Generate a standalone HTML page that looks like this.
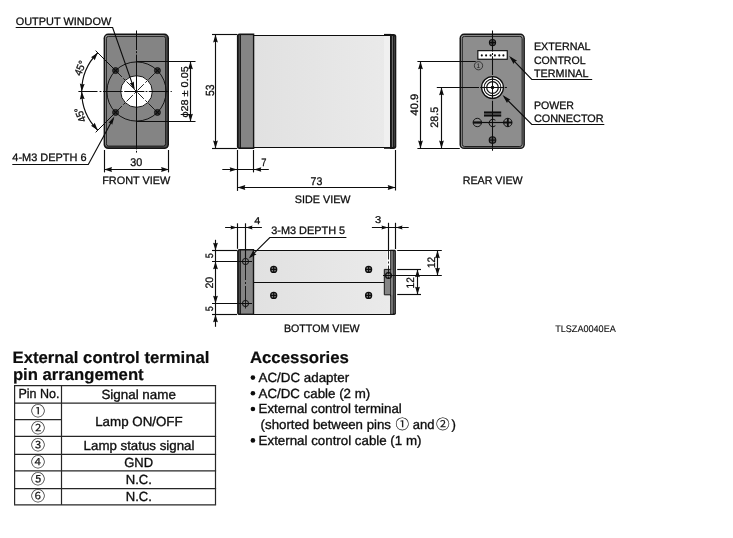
<!DOCTYPE html>
<html lang="en">
<head>
<meta charset="utf-8">
<title>Dimensional outline</title>
<style>
html,body{margin:0;padding:0;background:#fff;}
body{width:733px;height:538px;position:relative;overflow:hidden;font-family:"Liberation Sans","Noto Sans CJK JP",sans-serif;color:#111;}
svg{position:absolute;left:0;top:0;filter:grayscale(1);}
svg text{font-family:"Liberation Sans","Noto Sans CJK JP",sans-serif;text-rendering:geometricPrecision;}
</style>
</head>
<body>
<svg width="733" height="538" viewBox="0 0 733 538">
<defs><linearGradient id="bg" x1="0" y1="0" x2="1" y2="0"><stop offset="0" stop-color="#e1e1e1"/><stop offset="1" stop-color="#eaeaea"/></linearGradient></defs>
<rect x="103.60" y="33.60" width="65.40" height="115.40" rx="4.6" fill="#141414"/>
<rect x="105.10" y="35.10" width="62.40" height="112.40" rx="3.2" fill="#4c4c4c"/>
<rect x="105.10" y="35.10" width="60.50" height="111.00" rx="3.2" fill="#9a9a9a"/>
<rect x="106.35" y="36.35" width="59.25" height="109.75" rx="2.3" fill="#848484" stroke="#161616" stroke-width="0.95"/>
<circle cx="136.5" cy="91.5" r="29.6" fill="none" stroke="#0d0d0d" stroke-width="0.95"/>
<circle cx="136.5" cy="91.5" r="15.8" fill="#fff" stroke="#0d0d0d" stroke-width="0.95"/>
<line x1="115.57" y1="70.57" x2="157.43" y2="112.43" stroke="#0d0d0d" stroke-width="0.9" stroke-dasharray="9 2 2.5 2"/>
<line x1="115.57" y1="112.43" x2="157.43" y2="70.57" stroke="#0d0d0d" stroke-width="0.9" stroke-dasharray="9 2 2.5 2"/>
<circle cx="115.57" cy="70.57" r="3.0" fill="#333" stroke="#1c1c1c" stroke-width="1.0"/>
<line x1="113.27" y1="68.27" x2="117.87" y2="72.87" stroke="#0d0d0d" stroke-width="1.1"/>
<line x1="113.27" y1="72.87" x2="117.87" y2="68.27" stroke="#0d0d0d" stroke-width="1.1"/>
<circle cx="157.43" cy="70.57" r="3.0" fill="#333" stroke="#1c1c1c" stroke-width="1.0"/>
<line x1="155.13" y1="68.27" x2="159.73" y2="72.87" stroke="#0d0d0d" stroke-width="1.1"/>
<line x1="155.13" y1="72.87" x2="159.73" y2="68.27" stroke="#0d0d0d" stroke-width="1.1"/>
<circle cx="115.57" cy="112.43" r="3.0" fill="#333" stroke="#1c1c1c" stroke-width="1.0"/>
<line x1="113.27" y1="110.13" x2="117.87" y2="114.73" stroke="#0d0d0d" stroke-width="1.1"/>
<line x1="113.27" y1="114.73" x2="117.87" y2="110.13" stroke="#0d0d0d" stroke-width="1.1"/>
<circle cx="157.43" cy="112.43" r="3.0" fill="#333" stroke="#1c1c1c" stroke-width="1.0"/>
<line x1="155.13" y1="110.13" x2="159.73" y2="114.73" stroke="#0d0d0d" stroke-width="1.1"/>
<line x1="155.13" y1="114.73" x2="159.73" y2="110.13" stroke="#0d0d0d" stroke-width="1.1"/>
<line x1="78.40" y1="91.50" x2="172.00" y2="91.50" stroke="#0d0d0d" stroke-width="1.0" stroke-dasharray="19.1 2.1 1.8 1.6 19.6 1.6 20.2 1.2 1.8 1.4 20.2 1.6 1.2 9"/>
<line x1="136.50" y1="30.50" x2="136.50" y2="152.60" stroke="#0d0d0d" stroke-width="1.0" stroke-dasharray="19.5 1.2 2 1.4 94.8 1.4 1.8 9"/>
<line x1="115.57" y1="70.57" x2="95.63" y2="50.63" stroke="#0d0d0d" stroke-width="1.0"/>
<line x1="115.57" y1="112.43" x2="95.63" y2="132.37" stroke="#0d0d0d" stroke-width="1.0"/>
<path d="M97.75,52.75 A54.8,54.8 0 0 0 97.75,130.25" fill="none" stroke="#0d0d0d" stroke-width="1.15"/>
<polygon points="97.75,52.75 94.71,60.32 93.33,58.21 90.98,57.30" fill="#0d0d0d"/>
<polygon points="81.70,91.50 79.85,83.55 82.19,84.50 84.64,83.89" fill="#0d0d0d"/>
<polygon points="81.70,91.50 84.64,99.11 82.19,98.50 79.85,99.45" fill="#0d0d0d"/>
<polygon points="97.75,130.25 90.98,125.70 93.33,124.79 94.71,122.68" fill="#0d0d0d"/>
<text transform="translate(79.96,68.08) rotate(-67.5) translate(-7.60,3.87) scale(0.9321,1)" font-size="10.8" fill="#0d0d0d" stroke="#0d0d0d" stroke-width="0.28">45°</text>
<text transform="translate(79.96,114.92) rotate(-112.5) translate(-7.60,3.87) scale(0.9321,1)" font-size="10.8" fill="#0d0d0d" stroke="#0d0d0d" stroke-width="0.28">45°</text>
<text transform="translate(15.70,24.90) scale(1.0105,1)" font-size="10.8" fill="#0d0d0d" stroke="#0d0d0d" stroke-width="0.28">OUTPUT WINDOW</text>
<polyline points="15.70,27.50 112.60,27.50 134.00,88.60" fill="none" stroke="#0d0d0d" stroke-width="1.15" stroke-linejoin="miter"/>
<polygon points="134.60,90.30 129.81,82.97 132.07,83.08 133.77,81.58" fill="#0d0d0d"/>
<text transform="translate(12.30,160.80) scale(1.0133,1)" font-size="10.8" fill="#0d0d0d" stroke="#0d0d0d" stroke-width="0.28">4-M3 DEPTH 6</text>
<polyline points="12.30,164.50 88.30,164.50 113.00,119.00" fill="none" stroke="#0d0d0d" stroke-width="1.15" stroke-linejoin="miter"/>
<polygon points="114.40,116.40 112.19,124.87 110.75,123.12 108.50,122.87" fill="#0d0d0d"/>
<line x1="136.50" y1="61.50" x2="195.50" y2="61.50" stroke="#0d0d0d" stroke-width="1.15"/>
<line x1="136.50" y1="121.50" x2="195.50" y2="121.50" stroke="#0d0d0d" stroke-width="1.15"/>
<line x1="190.50" y1="61.90" x2="190.50" y2="121.10" stroke="#0d0d0d" stroke-width="1.15"/>
<polygon points="190.50,61.50 192.90,69.30 190.50,68.52 188.10,69.30" fill="#0d0d0d"/>
<polygon points="190.50,121.50 188.10,113.70 190.50,114.48 192.90,113.70" fill="#0d0d0d"/>
<text transform="translate(188.20,117.60) rotate(-90) scale(1.1100,1)" font-size="9.8" fill="#0d0d0d" stroke="#0d0d0d" stroke-width="0.28">ϕ28 ± 0.05</text>
<line x1="212.00" y1="34.50" x2="237.20" y2="34.50" stroke="#0d0d0d" stroke-width="1.15"/>
<line x1="212.00" y1="148.50" x2="237.20" y2="148.50" stroke="#0d0d0d" stroke-width="1.15"/>
<line x1="215.50" y1="34.50" x2="215.50" y2="148.50" stroke="#0d0d0d" stroke-width="1.15"/>
<polygon points="215.50,34.60 217.90,42.40 215.50,41.62 213.10,42.40" fill="#0d0d0d"/>
<polygon points="215.50,148.40 213.10,140.60 215.50,141.38 217.90,140.60" fill="#0d0d0d"/>
<text transform="translate(213.50,96.10) rotate(-90) scale(0.8780,1)" font-size="11.8" fill="#0d0d0d" stroke="#0d0d0d" stroke-width="0.28">53</text>
<line x1="104.50" y1="150.00" x2="104.50" y2="172.40" stroke="#0d0d0d" stroke-width="1.15"/>
<line x1="168.50" y1="150.00" x2="168.50" y2="172.40" stroke="#0d0d0d" stroke-width="1.15"/>
<line x1="104.20" y1="169.50" x2="168.50" y2="169.50" stroke="#0d0d0d" stroke-width="1.15"/>
<polygon points="104.20,169.50 112.00,167.10 111.22,169.50 112.00,171.90" fill="#0d0d0d"/>
<polygon points="168.90,169.50 161.10,171.90 161.88,169.50 161.10,167.10" fill="#0d0d0d"/>
<text transform="translate(130.30,165.80) scale(0.9653,1)" font-size="11.2" fill="#0d0d0d" stroke="#0d0d0d" stroke-width="0.28">30</text>
<text transform="translate(102.20,184.00) scale(1.0073,1)" font-size="10.8" fill="#0d0d0d" stroke="#0d0d0d" stroke-width="0.28">FRONT VIEW</text>
<rect x="254" y="35" width="136" height="113" fill="url(#bg)"/>
<rect x="384" y="35" width="6" height="113" fill="#f0f0f0"/>
<line x1="254.00" y1="35.50" x2="390.00" y2="35.50" stroke="#0d0d0d" stroke-width="1.2"/>
<line x1="254.00" y1="147.50" x2="390.00" y2="147.50" stroke="#0d0d0d" stroke-width="1.2"/>
<path d="M254.3,33.6 H239.6 Q236.9,33.6 236.9,36.3 V146.2 Q236.9,148.9 239.6,148.9 H254.3 Z" fill="#141414"/>
<rect x="238.6" y="35.1" width="1.6" height="112.3" fill="#4a4a4a"/>
<rect x="241.0" y="35.1" width="11.9" height="112.3" fill="#858585"/>
<path d="M390,33.9 H393.6 Q396.3,33.9 396.3,36.6 V146.2 Q396.3,148.9 393.6,148.9 H390 Z" fill="#161616"/>
<line x1="392.40" y1="36.00" x2="392.40" y2="147.00" stroke="#7c7c7c" stroke-width="0.9"/>
<line x1="394.40" y1="36.50" x2="394.40" y2="146.50" stroke="#555" stroke-width="0.7"/>
<rect x="384" y="33.9" width="7" height="1.7" fill="#111"/>
<rect x="384" y="147.0" width="7" height="1.8" fill="#111"/>
<line x1="237.50" y1="150.00" x2="237.50" y2="190.90" stroke="#0d0d0d" stroke-width="1.15"/>
<line x1="253.50" y1="150.00" x2="253.50" y2="172.40" stroke="#0d0d0d" stroke-width="1.15"/>
<line x1="222.30" y1="169.50" x2="268.80" y2="169.50" stroke="#0d0d0d" stroke-width="1.15"/>
<polygon points="237.10,169.50 229.70,171.70 230.44,169.50 229.70,167.30" fill="#0d0d0d"/>
<polygon points="253.90,169.50 261.30,167.30 260.56,169.50 261.30,171.70" fill="#0d0d0d"/>
<text transform="translate(261.20,165.80) scale(0.8675,1)" font-size="10.8" fill="#0d0d0d" stroke="#0d0d0d" stroke-width="0.28">7</text>
<line x1="395.50" y1="150.00" x2="395.50" y2="190.50" stroke="#0d0d0d" stroke-width="1.15"/>
<line x1="237.50" y1="187.50" x2="395.40" y2="187.50" stroke="#0d0d0d" stroke-width="1.15"/>
<polygon points="237.50,187.50 245.30,185.10 244.52,187.50 245.30,189.90" fill="#0d0d0d"/>
<polygon points="395.50,187.50 387.70,189.90 388.48,187.50 387.70,185.10" fill="#0d0d0d"/>
<text transform="translate(310.60,184.80) scale(0.9492,1)" font-size="11.2" fill="#0d0d0d" stroke="#0d0d0d" stroke-width="0.28">73</text>
<text transform="translate(294.80,203.30) scale(0.9994,1)" font-size="10.8" fill="#0d0d0d" stroke="#0d0d0d" stroke-width="0.28">SIDE VIEW</text>
<rect x="459.50" y="33.60" width="65.40" height="115.50" rx="4.6" fill="#141414"/>
<rect x="461.00" y="35.10" width="62.40" height="112.50" rx="3.2" fill="#9a9a9a"/>
<rect x="462.25" y="36.35" width="59.90" height="110.15" rx="2.3" fill="#8d8d8d" stroke="#161616" stroke-width="0.95"/>
<rect x="477.85" y="50.65" width="29.4" height="8.6" fill="#fff" stroke="#0d0d0d" stroke-width="1.15"/>
<circle cx="481.80" cy="55.4" r="1.05" fill="#0d0d0d"/>
<circle cx="486.10" cy="55.4" r="1.05" fill="#0d0d0d"/>
<circle cx="490.60" cy="55.4" r="1.05" fill="#0d0d0d"/>
<circle cx="494.90" cy="55.4" r="1.05" fill="#0d0d0d"/>
<circle cx="499.30" cy="55.4" r="1.05" fill="#0d0d0d"/>
<circle cx="503.40" cy="55.4" r="1.05" fill="#0d0d0d"/>
<circle cx="492.50" cy="42.60" r="3.1" fill="#5a5a5a" stroke="#0d0d0d" stroke-width="1.1"/>
<line x1="489.40" y1="42.60" x2="495.60" y2="42.60" stroke="#0d0d0d" stroke-width="1.5"/>
<line x1="492.50" y1="39.50" x2="492.50" y2="45.70" stroke="#0d0d0d" stroke-width="1.5"/>
<circle cx="492.50" cy="140.10" r="3.3" fill="#5a5a5a" stroke="#0d0d0d" stroke-width="1.1"/>
<line x1="489.20" y1="140.10" x2="495.80" y2="140.10" stroke="#0d0d0d" stroke-width="1.2"/>
<line x1="492.50" y1="136.80" x2="492.50" y2="143.40" stroke="#0d0d0d" stroke-width="1.2"/>
<circle cx="492.5" cy="87.5" r="10.9" fill="#fff" stroke="#0d0d0d" stroke-width="1.25"/>
<circle cx="492.5" cy="87.5" r="8.4" fill="none" stroke="#0d0d0d" stroke-width="1.05"/>
<circle cx="492.5" cy="87.5" r="5.8" fill="none" stroke="#0d0d0d" stroke-width="1.2"/>
<circle cx="492.5" cy="87.5" r="1.8" fill="#0d0d0d"/>
<line x1="492.50" y1="30.50" x2="492.50" y2="152.60" stroke="#0d0d0d" stroke-width="1.05" stroke-dasharray="21 1.4 2 1.4 18.6 1.6 22.8 1.4 47 1.4 1.6 9"/>
<line x1="480.20" y1="87.50" x2="506.90" y2="87.50" stroke="#0d0d0d" stroke-width="1.05" stroke-dasharray="23.4 1.1 2.2 9"/>
<line x1="484.00" y1="112.50" x2="501.20" y2="112.50" stroke="#0d0d0d" stroke-width="2.1"/>
<line x1="484.00" y1="115.50" x2="501.20" y2="115.50" stroke="#0d0d0d" stroke-width="2.1"/>
<line x1="477.20" y1="122.50" x2="507.80" y2="122.50" stroke="#0d0d0d" stroke-width="1.2"/>
<circle cx="477.30" cy="122.50" r="4.2" fill="none" stroke="#0d0d0d" stroke-width="0.95"/>
<line x1="473.10" y1="122.50" x2="481.50" y2="122.50" stroke="#0d0d0d" stroke-width="2.2"/>
<circle cx="507.80" cy="122.50" r="4.2" fill="none" stroke="#0d0d0d" stroke-width="0.95"/>
<line x1="503.60" y1="122.50" x2="512.00" y2="122.50" stroke="#0d0d0d" stroke-width="1.9"/>
<line x1="507.80" y1="118.30" x2="507.80" y2="126.70" stroke="#0d0d0d" stroke-width="1.9"/>
<path d="M495.4,120.2 A3.8,3.8 0 1 0 495.4,125.8" fill="none" stroke="#0d0d0d" stroke-width="1"/>
<circle cx="478.5" cy="65.7" r="4.15" fill="none" stroke="#1c1c1c" stroke-width="0.75"/>
<text x="478.4" y="68.1" font-size="6.6" text-anchor="middle" fill="#1c1c1c">1</text>
<line x1="417.40" y1="61.50" x2="475.70" y2="61.50" stroke="#0d0d0d" stroke-width="1.15"/>
<line x1="417.40" y1="148.50" x2="459.80" y2="148.50" stroke="#0d0d0d" stroke-width="1.15"/>
<line x1="420.50" y1="61.50" x2="420.50" y2="148.50" stroke="#0d0d0d" stroke-width="1.15"/>
<polygon points="420.50,61.50 422.90,69.30 420.50,68.52 418.10,69.30" fill="#0d0d0d"/>
<polygon points="420.50,148.40 418.10,140.60 420.50,141.38 422.90,140.60" fill="#0d0d0d"/>
<text transform="translate(418.20,115.40) rotate(-90) scale(1.0235,1)" font-size="10.8" fill="#0d0d0d" stroke="#0d0d0d" stroke-width="0.28">40.9</text>
<line x1="436.80" y1="87.50" x2="479.00" y2="87.50" stroke="#0d0d0d" stroke-width="1.15"/>
<line x1="441.50" y1="87.50" x2="441.50" y2="148.50" stroke="#0d0d0d" stroke-width="1.15"/>
<polygon points="441.50,87.50 443.90,95.30 441.50,94.52 439.10,95.30" fill="#0d0d0d"/>
<polygon points="441.50,148.40 439.10,140.60 441.50,141.38 443.90,140.60" fill="#0d0d0d"/>
<text transform="translate(438.30,127.80) rotate(-90) scale(0.9997,1)" font-size="10.8" fill="#0d0d0d" stroke="#0d0d0d" stroke-width="0.28">28.5</text>
<text transform="translate(462.70,183.50) scale(0.9894,1)" font-size="10.8" fill="#0d0d0d" stroke="#0d0d0d" stroke-width="0.28">REAR VIEW</text>
<text transform="translate(533.90,50.00) scale(0.9943,1)" font-size="10.8" fill="#0d0d0d" stroke="#0d0d0d" stroke-width="0.28">EXTERNAL</text>
<text transform="translate(533.90,63.80) scale(0.9789,1)" font-size="10.8" fill="#0d0d0d" stroke="#0d0d0d" stroke-width="0.28">CONTROL</text>
<text transform="translate(533.90,76.60) scale(0.9983,1)" font-size="10.8" fill="#0d0d0d" stroke="#0d0d0d" stroke-width="0.28">TERMINAL</text>
<polyline points="592.20,79.50 531.80,79.50 511.00,57.90" fill="none" stroke="#0d0d0d" stroke-width="1.15" stroke-linejoin="miter"/>
<polygon points="509.20,56.10 517.04,60.76 514.70,61.80 513.59,64.10" fill="#0d0d0d"/>
<text transform="translate(533.90,108.80) scale(0.9823,1)" font-size="10.8" fill="#0d0d0d" stroke="#0d0d0d" stroke-width="0.28">POWER</text>
<text transform="translate(533.90,121.70) scale(1.0045,1)" font-size="10.8" fill="#0d0d0d" stroke="#0d0d0d" stroke-width="0.28">CONNECTOR</text>
<polyline points="604.30,124.50 531.80,124.50 504.20,96.80" fill="none" stroke="#0d0d0d" stroke-width="1.15" stroke-linejoin="miter"/>
<polygon points="502.50,95.10 510.42,99.63 508.10,100.70 507.03,103.02" fill="#0d0d0d"/>
<rect x="254" y="250.5" width="136.5" height="64.0" fill="url(#bg)"/>
<rect x="387.2" y="250.5" width="3.2" height="18.6" fill="#fcfcfc"/>
<line x1="254.00" y1="250.50" x2="391.00" y2="250.50" stroke="#0d0d0d" stroke-width="1.2"/>
<line x1="254.00" y1="314.50" x2="391.00" y2="314.50" stroke="#0d0d0d" stroke-width="1.2"/>
<line x1="254.00" y1="282.50" x2="384.30" y2="282.50" stroke="#0d0d0d" stroke-width="1.1"/>
<path d="M254.2,248.9 H239.7 Q237.1,248.9 237.1,251.5 V312.4 Q237.1,315 239.7,315 H254.2 Z" fill="#141414"/>
<rect x="238.8" y="250.5" width="1.3" height="63" fill="#4a4a4a"/>
<rect x="240.9" y="250.5" width="11.9" height="63.1" fill="#858585"/>
<line x1="245.50" y1="266.00" x2="245.50" y2="299.50" stroke="#0d0d0d" stroke-width="0.9" stroke-dasharray="14 2 2 2"/>
<circle cx="245.5" cy="261.5" r="3.1" fill="none" stroke="#0d0d0d" stroke-width="1"/>
<line x1="245.50" y1="256.50" x2="245.50" y2="266.50" stroke="#0d0d0d" stroke-width="0.9"/>
<circle cx="245.5" cy="303.5" r="3.1" fill="none" stroke="#0d0d0d" stroke-width="1"/>
<line x1="245.50" y1="298.50" x2="245.50" y2="308.50" stroke="#0d0d0d" stroke-width="0.9"/>
<circle cx="273.70" cy="269.40" r="3.0" fill="#858585" stroke="#0d0d0d" stroke-width="1.3"/>
<line x1="270.70" y1="269.40" x2="276.70" y2="269.40" stroke="#0d0d0d" stroke-width="1.2"/>
<line x1="273.70" y1="266.40" x2="273.70" y2="272.40" stroke="#0d0d0d" stroke-width="1.2"/>
<circle cx="273.70" cy="295.40" r="3.0" fill="#858585" stroke="#0d0d0d" stroke-width="1.3"/>
<line x1="270.70" y1="295.40" x2="276.70" y2="295.40" stroke="#0d0d0d" stroke-width="1.2"/>
<line x1="273.70" y1="292.40" x2="273.70" y2="298.40" stroke="#0d0d0d" stroke-width="1.2"/>
<circle cx="368.60" cy="269.40" r="3.0" fill="#858585" stroke="#0d0d0d" stroke-width="1.3"/>
<line x1="365.60" y1="269.40" x2="371.60" y2="269.40" stroke="#0d0d0d" stroke-width="1.2"/>
<line x1="368.60" y1="266.40" x2="368.60" y2="272.40" stroke="#0d0d0d" stroke-width="1.2"/>
<circle cx="368.60" cy="295.40" r="3.0" fill="#858585" stroke="#0d0d0d" stroke-width="1.3"/>
<line x1="365.60" y1="295.40" x2="371.60" y2="295.40" stroke="#0d0d0d" stroke-width="1.2"/>
<line x1="368.60" y1="292.40" x2="368.60" y2="298.40" stroke="#0d0d0d" stroke-width="1.2"/>
<path d="M384.3,269.4 H392 V296 H390.5 V294.8 H384.3 Z" fill="#858585" stroke="#141414" stroke-width="1"/>
<path d="M390.2,249.8 H394.6 Q395.9,249.8 395.9,251.2 V313.2 Q395.9,315 394.2,315 H390.2 Z" fill="#141414"/>
<rect x="391.2" y="251" width="1.6" height="62.8" fill="#8a8a8a"/>
<rect x="393.7" y="251.2" width="0.85" height="62.2" fill="#808080"/>
<rect x="390.9" y="270" width="1.9" height="25.4" fill="#858585"/>
<circle cx="388.5" cy="275.5" r="2.9" fill="none" stroke="#0d0d0d" stroke-width="1.25"/>
<line x1="237.50" y1="223.30" x2="237.50" y2="248.80" stroke="#0d0d0d" stroke-width="1.15"/>
<line x1="245.50" y1="223.30" x2="245.50" y2="258.00" stroke="#0d0d0d" stroke-width="1.15"/>
<line x1="225.10" y1="227.50" x2="261.90" y2="227.50" stroke="#0d0d0d" stroke-width="1.15"/>
<polygon points="237.10,227.50 230.50,229.50 231.16,227.50 230.50,225.50" fill="#0d0d0d"/>
<polygon points="245.90,227.50 252.50,225.50 251.84,227.50 252.50,229.50" fill="#0d0d0d"/>
<text transform="translate(254.20,223.80) scale(1.0811,1)" font-size="10.0" fill="#0d0d0d" stroke="#0d0d0d" stroke-width="0.28">4</text>
<text transform="translate(271.20,233.60) scale(1.0106,1)" font-size="10.8" fill="#0d0d0d" stroke="#0d0d0d" stroke-width="0.28">3-M3 DEPTH 5</text>
<polyline points="346.40,237.50 269.80,237.50 250.40,256.80" fill="none" stroke="#0d0d0d" stroke-width="1.15" stroke-linejoin="miter"/>
<polygon points="248.70,258.60 253.10,250.83 254.19,253.14 256.49,254.24" fill="#0d0d0d"/>
<line x1="388.50" y1="222.80" x2="388.50" y2="250.50" stroke="#0d0d0d" stroke-width="1.15"/>
<line x1="388.50" y1="250.50" x2="388.50" y2="279.50" stroke="#0d0d0d" stroke-width="0.9" stroke-dasharray="9 2 2 2"/>
<line x1="395.50" y1="222.80" x2="395.50" y2="249.00" stroke="#0d0d0d" stroke-width="1.15"/>
<line x1="371.90" y1="227.50" x2="408.70" y2="227.50" stroke="#0d0d0d" stroke-width="1.15"/>
<polygon points="388.10,227.50 381.50,229.50 382.16,227.50 381.50,225.50" fill="#0d0d0d"/>
<polygon points="395.90,227.50 402.50,225.50 401.84,227.50 402.50,229.50" fill="#0d0d0d"/>
<text transform="translate(375.00,223.40) scale(1.1171,1)" font-size="10.0" fill="#0d0d0d" stroke="#0d0d0d" stroke-width="0.28">3</text>
<line x1="212.00" y1="250.50" x2="237.00" y2="250.50" stroke="#0d0d0d" stroke-width="1.15"/>
<line x1="212.00" y1="314.50" x2="237.00" y2="314.50" stroke="#0d0d0d" stroke-width="1.15"/>
<line x1="212.00" y1="261.50" x2="252.00" y2="261.50" stroke="#0d0d0d" stroke-width="1.15"/>
<line x1="212.00" y1="303.50" x2="252.00" y2="303.50" stroke="#0d0d0d" stroke-width="1.15"/>
<line x1="215.50" y1="239.80" x2="215.50" y2="326.80" stroke="#0d0d0d" stroke-width="1.15"/>
<polygon points="215.50,250.50 213.10,242.70 215.50,243.48 217.90,242.70" fill="#0d0d0d"/>
<polygon points="215.50,261.50 217.90,269.30 215.50,268.52 213.10,269.30" fill="#0d0d0d"/>
<polygon points="215.50,303.50 213.10,295.70 215.50,296.48 217.90,295.70" fill="#0d0d0d"/>
<polygon points="215.50,314.50 217.90,322.30 215.50,321.52 213.10,322.30" fill="#0d0d0d"/>
<text transform="translate(212.60,258.20) rotate(-90) scale(0.8342,1)" font-size="10.8" fill="#0d0d0d" stroke="#0d0d0d" stroke-width="0.28">5</text>
<text transform="translate(212.60,288.50) rotate(-90) scale(0.9760,1)" font-size="10.8" fill="#0d0d0d" stroke="#0d0d0d" stroke-width="0.28">20</text>
<text transform="translate(212.60,311.20) rotate(-90) scale(0.8342,1)" font-size="10.8" fill="#0d0d0d" stroke="#0d0d0d" stroke-width="0.28">5</text>
<line x1="397.20" y1="250.50" x2="441.80" y2="250.50" stroke="#0d0d0d" stroke-width="1.15"/>
<line x1="383.00" y1="275.50" x2="441.80" y2="275.50" stroke="#0d0d0d" stroke-width="1.15"/>
<line x1="437.50" y1="250.50" x2="437.50" y2="275.50" stroke="#0d0d0d" stroke-width="1.15"/>
<polygon points="437.50,250.50 439.90,258.30 437.50,257.52 435.10,258.30" fill="#0d0d0d"/>
<polygon points="437.50,275.50 435.10,267.70 437.50,268.48 439.90,267.70" fill="#0d0d0d"/>
<text transform="translate(435.20,268.00) rotate(-90) scale(0.9343,1)" font-size="10.8" fill="#0d0d0d" stroke="#0d0d0d" stroke-width="0.28">12</text>
<line x1="397.20" y1="269.50" x2="421.00" y2="269.50" stroke="#0d0d0d" stroke-width="1.15"/>
<line x1="397.20" y1="294.50" x2="421.00" y2="294.50" stroke="#0d0d0d" stroke-width="1.15"/>
<line x1="417.50" y1="269.50" x2="417.50" y2="294.50" stroke="#0d0d0d" stroke-width="1.15"/>
<polygon points="417.50,269.50 419.90,277.30 417.50,276.52 415.10,277.30" fill="#0d0d0d"/>
<polygon points="417.50,294.50 415.10,286.70 417.50,287.48 419.90,286.70" fill="#0d0d0d"/>
<text transform="translate(414.10,288.40) rotate(-90) scale(0.9343,1)" font-size="10.8" fill="#0d0d0d" stroke="#0d0d0d" stroke-width="0.28">12</text>
<text transform="translate(283.90,331.80) scale(0.9892,1)" font-size="10.8" fill="#0d0d0d" stroke="#0d0d0d" stroke-width="0.28">BOTTOM VIEW</text>
<text transform="translate(555.20,331.50) scale(0.9556,1)" font-size="9.5" fill="#0d0d0d" stroke="#0d0d0d" stroke-width="0.12">TLSZA0040EA</text>
<text transform="translate(12.50,362.70) scale(1.0110,1)" font-size="16.55" font-weight="bold" fill="#0d0d0d" stroke="#0d0d0d" stroke-width="0.2">External control terminal</text>
<text transform="translate(12.90,379.90) scale(1.0095,1)" font-size="16.55" font-weight="bold" fill="#0d0d0d" stroke="#0d0d0d" stroke-width="0.2">pin arrangement</text>
<text transform="translate(249.90,362.90) scale(1.0158,1)" font-size="16.55" font-weight="bold" fill="#0d0d0d" stroke="#0d0d0d" stroke-width="0.2">Accessories</text>
<circle cx="252.9" cy="377.60" r="2.3" fill="#0d0d0d"/>
<circle cx="252.9" cy="393.20" r="2.3" fill="#0d0d0d"/>
<circle cx="252.9" cy="409.00" r="2.3" fill="#0d0d0d"/>
<circle cx="252.9" cy="440.40" r="2.3" fill="#0d0d0d"/>
<text transform="translate(258.50,382.00) scale(1.0085,1)" font-size="13.25" fill="#0d0d0d" stroke="#0d0d0d" stroke-width="0.34">AC/DC adapter</text>
<text transform="translate(258.50,397.60) scale(1.0048,1)" font-size="13.25" fill="#0d0d0d" stroke="#0d0d0d" stroke-width="0.34">AC/DC cable (2 m)</text>
<text transform="translate(258.60,413.40) scale(1.0021,1)" font-size="13.25" fill="#0d0d0d" stroke="#0d0d0d" stroke-width="0.34">External control terminal</text>
<text transform="translate(260.60,429.10) scale(1.0000,1)" font-size="13.25" fill="#0d0d0d" stroke="#0d0d0d" stroke-width="0.34">(shorted between pins</text>
<text transform="translate(412.70,429.10) scale(0.9807,1)" font-size="13.25" fill="#0d0d0d" stroke="#0d0d0d" stroke-width="0.34">and</text>
<text transform="translate(451.60,429.10) scale(1.0000,1)" font-size="13.25" fill="#0d0d0d" stroke="#0d0d0d" stroke-width="0.34">)</text>
<text transform="translate(258.60,444.80) scale(1.0051,1)" font-size="13.25" fill="#0d0d0d" stroke="#0d0d0d" stroke-width="0.34">External control cable (1 m)</text>
<text x="402.20" y="429.30" font-size="13.6" text-anchor="middle" font-family="'Noto Sans CJK JP',sans-serif" fill="#1a1a1a" stroke="#1a1a1a" stroke-width="0.18">①</text>
<text x="442.90" y="429.30" font-size="13.6" text-anchor="middle" font-family="'Noto Sans CJK JP',sans-serif" fill="#1a1a1a" stroke="#1a1a1a" stroke-width="0.18">②</text>
<line x1="14.00" y1="385.50" x2="216.10" y2="385.50" stroke="#262626" stroke-width="1.25"/>
<line x1="14.00" y1="403.00" x2="216.10" y2="403.00" stroke="#262626" stroke-width="1.25"/>
<line x1="14.00" y1="419.70" x2="61.50" y2="419.70" stroke="#262626" stroke-width="1.25"/>
<line x1="14.00" y1="436.40" x2="216.10" y2="436.40" stroke="#262626" stroke-width="1.25"/>
<line x1="14.00" y1="454.30" x2="216.10" y2="454.30" stroke="#262626" stroke-width="1.25"/>
<line x1="14.00" y1="470.90" x2="216.10" y2="470.90" stroke="#262626" stroke-width="1.25"/>
<line x1="14.00" y1="488.60" x2="216.10" y2="488.60" stroke="#262626" stroke-width="1.25"/>
<line x1="14.00" y1="504.80" x2="216.10" y2="504.80" stroke="#262626" stroke-width="1.25"/>
<line x1="14.60" y1="385.50" x2="14.60" y2="504.80" stroke="#262626" stroke-width="1.2"/>
<line x1="61.50" y1="385.50" x2="61.50" y2="504.80" stroke="#262626" stroke-width="1.2"/>
<line x1="215.50" y1="385.50" x2="215.50" y2="504.80" stroke="#262626" stroke-width="1.2"/>
<text transform="translate(18.40,398.40) scale(0.9434,1)" font-size="13.25" fill="#0d0d0d" stroke="#0d0d0d" stroke-width="0.34">Pin No.</text>
<text transform="translate(101.40,398.50) scale(1.0113,1)" font-size="13.25" fill="#0d0d0d" stroke="#0d0d0d" stroke-width="0.34">Signal name</text>
<text transform="translate(95.20,425.50) scale(1.0063,1)" font-size="13.25" fill="#0d0d0d" stroke="#0d0d0d" stroke-width="0.34">Lamp ON/OFF</text>
<text transform="translate(83.60,449.70) scale(1.0027,1)" font-size="13.25" fill="#0d0d0d" stroke="#0d0d0d" stroke-width="0.34">Lamp status signal</text>
<text transform="translate(124.20,467.40) scale(0.9791,1)" font-size="13.25" fill="#0d0d0d" stroke="#0d0d0d" stroke-width="0.34">GND</text>
<text transform="translate(125.70,484.20) scale(0.9887,1)" font-size="13.25" fill="#0d0d0d" stroke="#0d0d0d" stroke-width="0.34">N.C.</text>
<text transform="translate(125.70,500.90) scale(0.9887,1)" font-size="13.25" fill="#0d0d0d" stroke="#0d0d0d" stroke-width="0.34">N.C.</text>
<text x="37.90" y="415.99" font-size="14.0" text-anchor="middle" font-family="'Noto Sans CJK JP',sans-serif" fill="#1a1a1a" stroke="#1a1a1a" stroke-width="0.18">①</text>
<text x="37.90" y="432.69" font-size="14.0" text-anchor="middle" font-family="'Noto Sans CJK JP',sans-serif" fill="#1a1a1a" stroke="#1a1a1a" stroke-width="0.18">②</text>
<text x="37.90" y="449.99" font-size="14.0" text-anchor="middle" font-family="'Noto Sans CJK JP',sans-serif" fill="#1a1a1a" stroke="#1a1a1a" stroke-width="0.18">③</text>
<text x="37.90" y="467.24" font-size="14.0" text-anchor="middle" font-family="'Noto Sans CJK JP',sans-serif" fill="#1a1a1a" stroke="#1a1a1a" stroke-width="0.18">④</text>
<text x="37.90" y="484.39" font-size="14.0" text-anchor="middle" font-family="'Noto Sans CJK JP',sans-serif" fill="#1a1a1a" stroke="#1a1a1a" stroke-width="0.18">⑤</text>
<text x="37.90" y="501.34" font-size="14.0" text-anchor="middle" font-family="'Noto Sans CJK JP',sans-serif" fill="#1a1a1a" stroke="#1a1a1a" stroke-width="0.18">⑥</text>
</svg>
</body>
</html>
